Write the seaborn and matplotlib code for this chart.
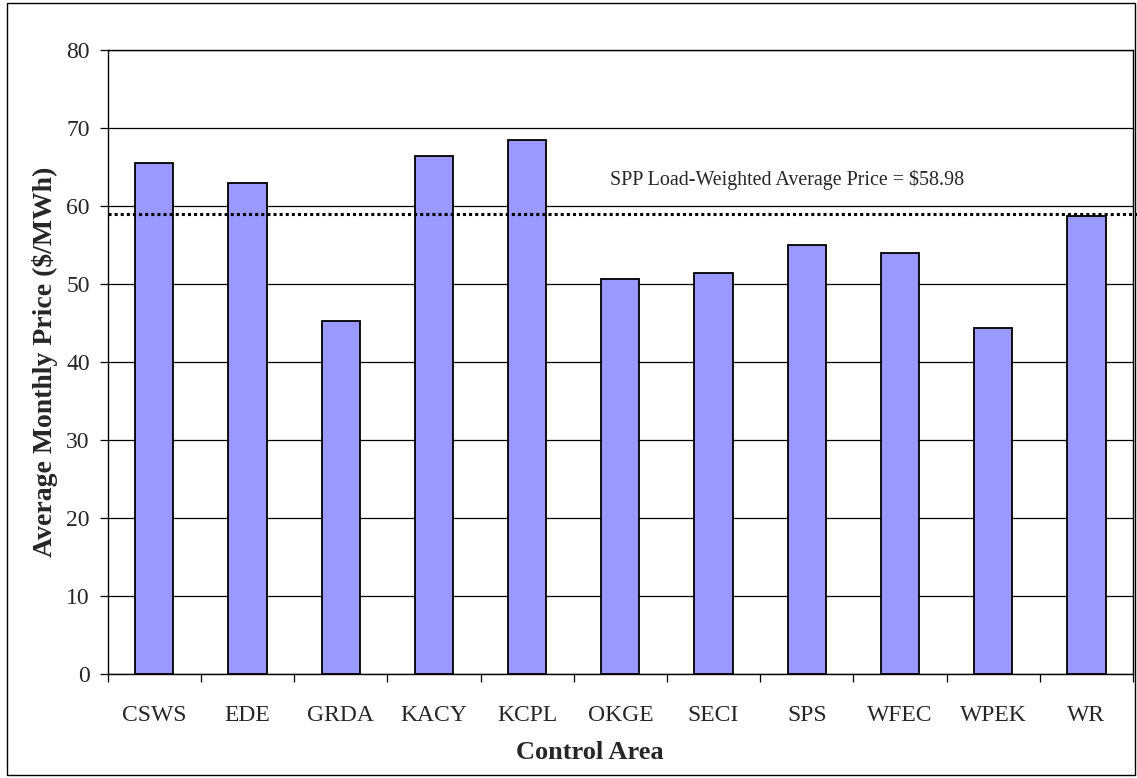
import matplotlib
matplotlib.use("Agg")
import matplotlib.pyplot as plt
import matplotlib.transforms as mtransforms
from matplotlib.patches import Rectangle
from matplotlib.ticker import FixedLocator
import numpy as np
import seaborn as sns

areas = ['CSWS', 'EDE', 'GRDA', 'KACY', 'KCPL', 'OKGE', 'SECI', 'SPS', 'WFEC', 'WPEK', 'WR']
prices = [65.5, 62.9, 45.3, 66.4, 68.4, 50.7, 51.4, 55.0, 54.0, 44.3, 58.7]
spp_avg = 58.98
avg_label = 'SPP Load-Weighted Average Price = $58.98'
yticks = [0, 10, 20, 30, 40, 50, 60, 70, 80]

sns.set_style("white")
plt.rcParams['font.family'] = ['Liberation Serif', 'DejaVu Serif']

fig = plt.figure(figsize=(11.37, 7.78), dpi=100)
ax = fig.add_axes([107.7 / 1137, 104 / 778, (1133 - 107.7) / 1137, 624 / 778])

# gridlines behind bars
ax.set_axisbelow(True)
ax.yaxis.grid(True, color='black', linewidth=0.9)

sns.barplot(x=areas, y=prices, color='#9999FF', saturation=1, width=0.41,
            edgecolor='black', linewidth=1.3, ax=ax)

ax.set_ylim(0, 80)
ax.set_xlim(-0.5, len(areas) - 0.5)
ax.set_yticks(yticks)
ax.set_yticklabels([str(t) for t in yticks])

# category boundaries get tick marks, labels sit in between
ax.xaxis.set_minor_locator(FixedLocator(np.arange(-0.5, len(areas), 1.0)))
ax.tick_params(axis='x', which='major', length=0, pad=22, labelsize=17)
ax.tick_params(axis='x', which='minor', length=5.5, width=0.9, color='black', direction='out', bottom=True)
ax.tick_params(axis='y', which='major', length=5.5, width=0.9, color='black', direction='out',
               left=True, pad=7.5, labelsize=17)

for s in ax.spines.values():
    s.set_visible(True)
    s.set_color('black')
    s.set_linewidth(1.0)

# average price line
trans = mtransforms.blended_transform_factory(ax.transAxes, ax.transData)
ax.plot([0, 1.01], [spp_avg, spp_avg], transform=trans, color='black',
        linestyle=(0, (1, 1)), linewidth=2.2, clip_on=False, zorder=5)
ax.text(787.5 / 1137, (778 - 185) / 778, avg_label, transform=fig.transFigure,
        ha='center', va='baseline', fontsize=14.4)

ax.set_xlabel('Control Area', fontsize=19, fontweight='bold')
ax.xaxis.set_label_coords(0.47, -0.107)
ax.set_ylabel('Average Monthly Price ($/MWh)', fontsize=20, fontweight='bold', labelpad=6)

fig.patches.append(Rectangle((7 / 1137, 3 / 778), 1128 / 1137, 772 / 778,
                             transform=fig.transFigure, fill=False,
                             edgecolor='black', linewidth=1.0))

fig.savefig('out.png', dpi=100)
